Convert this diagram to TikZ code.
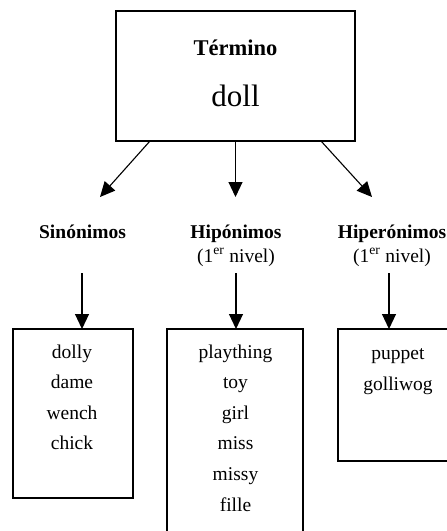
\documentclass[tikz,border=0pt]{standalone}
\usepackage{fontspec}
\setmainfont{Liberation Serif}
\usetikzlibrary{arrows.meta}

\begin{document}
\begin{tikzpicture}[x=1pt,y=-1pt,
  box/.style={draw, line width=1.2pt, fill=white, rectangle, inner sep=0pt, outer sep=0pt},
  arr/.style={line width=1.1pt, -{Triangle[length=15pt,width=14pt]}},
  head/.style={font=\fontsize{19.5}{22}\selectfont\bfseries, anchor=base, inner sep=0pt},
  sub/.style={font=\fontsize{19.5}{22}\selectfont, anchor=base, inner sep=0pt},
  word/.style={font=\fontsize{19.5}{22}\selectfont, anchor=base, inner sep=0pt}]
  \useasboundingbox (0,0) rectangle (447,531);
  \clip (0,0) rectangle (447,531);

  % term box
  \node[box, minimum width=239pt, minimum height=130pt] (term) at (235.5,76) {};
  \node[font=\fontsize{22.5}{26}\selectfont\bfseries, anchor=base, inner sep=0pt] (termlab) at (235.5,55) {Término};
  \node[font=\fontsize{31}{34}\selectfont, anchor=base, inner sep=0pt] (doll) at (235.5,106) {doll};

  % arrow tips below the term box
  \coordinate (tipS) at (100,197);
  \coordinate (tipH) at (235.5,197);
  \coordinate (tipR) at (372,197);
  \draw[arr] ([xshift=34pt]term.south west) -- (tipS);
  \draw[arr] (term.south) -- (tipH);
  \draw[arr] ([xshift=-34pt]term.south east) -- (tipR);

  % category labels
  \node[head] (sin) at (82.5,238) {Sinónimos};
  \node[head] (hip) at (236,238) {Hipónimos};
  \node[sub]  (hipn) at (236,262) {(1\textsuperscript{er} nivel)};
  \node[head] (hiper) at (392,238) {Hiperónimos};
  \node[sub]  (hipern) at (392,262) {(1\textsuperscript{er} nivel)};

  % word boxes
  \node[box, minimum width=120pt, minimum height=169pt] (sinbox) at (73,413.5) {};
  \node[box, minimum width=136pt, minimum height=220pt] (hipbox) at (235,439) {};
  \node[box, minimum width=117pt, minimum height=132pt] (hiperbox) at (396.5,395) {};

  % arrows into the word boxes
  \coordinate (s0) at (82,273);
  \coordinate (h0) at (236,273);
  \coordinate (r0) at (389,273);
  \draw[arr] (s0) -- (s0 |- sinbox.north);
  \draw[arr] (h0) -- (h0 |- hipbox.north);
  \draw[arr] (r0) -- (r0 |- hiperbox.north);

  % word lists
  \foreach \w [count=\i] in {dolly,dame,wench,chick}
    \node[word] (sw\i) at (72,{358+30.5*(\i-1)}) {\w};
  \foreach \w [count=\i] in {plaything,toy,girl,miss,missy,fille}
    \node[word] (hw\i) at (235.5,{358+30.6*(\i-1)}) {\w};
  \foreach \w [count=\i] in {puppet,golliwog}
    \node[word] (rw\i) at (398,{359+31*(\i-1)}) {\w};
\end{tikzpicture}
\end{document}
